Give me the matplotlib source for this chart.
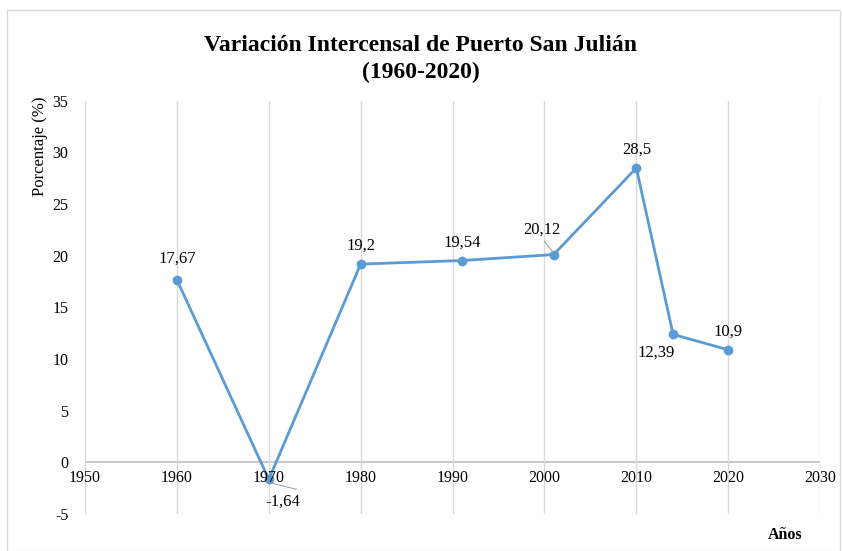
import matplotlib.pyplot as plt
from matplotlib.patches import Rectangle

# Datos de la variación intercensal
anios = [1960, 1970, 1980, 1991, 2001, 2010, 2014, 2020]
variacion = [17.67, -1.64, 19.2, 19.54, 20.12, 28.5, 12.39, 10.9]
etiquetas = ["17,67", "-1,64", "19,2", "19,54", "20,12", "28,5", "12,39", "10,9"]
x_ticks = [1950, 1960, 1970, 1980, 1990, 2000, 2010, 2020, 2030]
y_ticks = [-5, 0, 5, 10, 15, 20, 25, 30, 35]

plt.rcParams['font.family'] = ['Liberation Serif', 'DejaVu Serif']
plt.rcParams['axes.unicode_minus'] = False

fig = plt.figure(figsize=(8.42, 5.51), dpi=100)
ax = fig.add_axes([0.101, 0.067, 0.873, 0.75])

# borde gris del gráfico
fig.patches.append(Rectangle((0.008, 0.0), 0.99, 0.982, transform=fig.transFigure,
                             fill=False, edgecolor='#d9d9d9', linewidth=1))

azul = '#5B9BD5'
ax.plot(anios, variacion, color=azul, linewidth=2, marker='o', markersize=6, zorder=3)

ax.set_xlim(1950, 2030)
ax.set_ylim(-5, 35)
ax.set_xticks(x_ticks)
ax.set_yticks(y_ticks)
ax.grid(axis='x', color='#d9d9d9', linewidth=1)
ax.axhline(0, color='#bfbfbf', linewidth=1.2, zorder=1)
for s in ax.spines.values():
    s.set_visible(False)
ax.tick_params(length=0, labelsize=11.5)
ax.tick_params(axis='y', pad=12)
ax.set_xticklabels([])

# etiquetas del eje x justo debajo de la línea del cero
for xt in x_ticks:
    ax.text(xt, -0.7, str(xt), ha='center', va='top', fontsize=11.5)

# etiquetas de datos
offsets = {
    0: (0, 1.3, 'center', 'bottom'),
    1: (1.5, -1.4, 'center', 'top'),
    2: (0, 1.0, 'center', 'bottom'),
    3: (0, 1.0, 'center', 'bottom'),
    4: (-1.3, 1.6, 'center', 'bottom'),
    5: (0, 1.0, 'center', 'bottom'),
    6: (-1.8, -1.0, 'center', 'top'),
    7: (0, 1.0, 'center', 'bottom'),
}
for i, (x, y, t) in enumerate(zip(anios, variacion, etiquetas)):
    dx, dy, ha, va = offsets[i]
    ax.text(x + dx, y + dy, t, ha=ha, va=va, fontsize=12)

# líneas guía
ax.plot([1970.3, 1973.0], [-2.0, -2.6], color='#a6a6a6', linewidth=0.8)
ax.plot([2000.0, 2000.8], [21.4, 20.5], color='#a6a6a6', linewidth=0.8)

ax.set_ylabel('Porcentaje (%)', fontsize=12)
ax.yaxis.set_label_coords(-0.05, 0.89)
fig.text(0.933, 0.022, 'Años', fontsize=11.5, fontweight='bold', ha='center')

fig.text(0.5, 0.893, 'Variación Intercensal de Puerto San Julián\n(1960-2020)',
         ha='center', va='center', fontsize=17, fontweight='bold', linespacing=1.4)

fig.savefig('out.png', dpi=100)
